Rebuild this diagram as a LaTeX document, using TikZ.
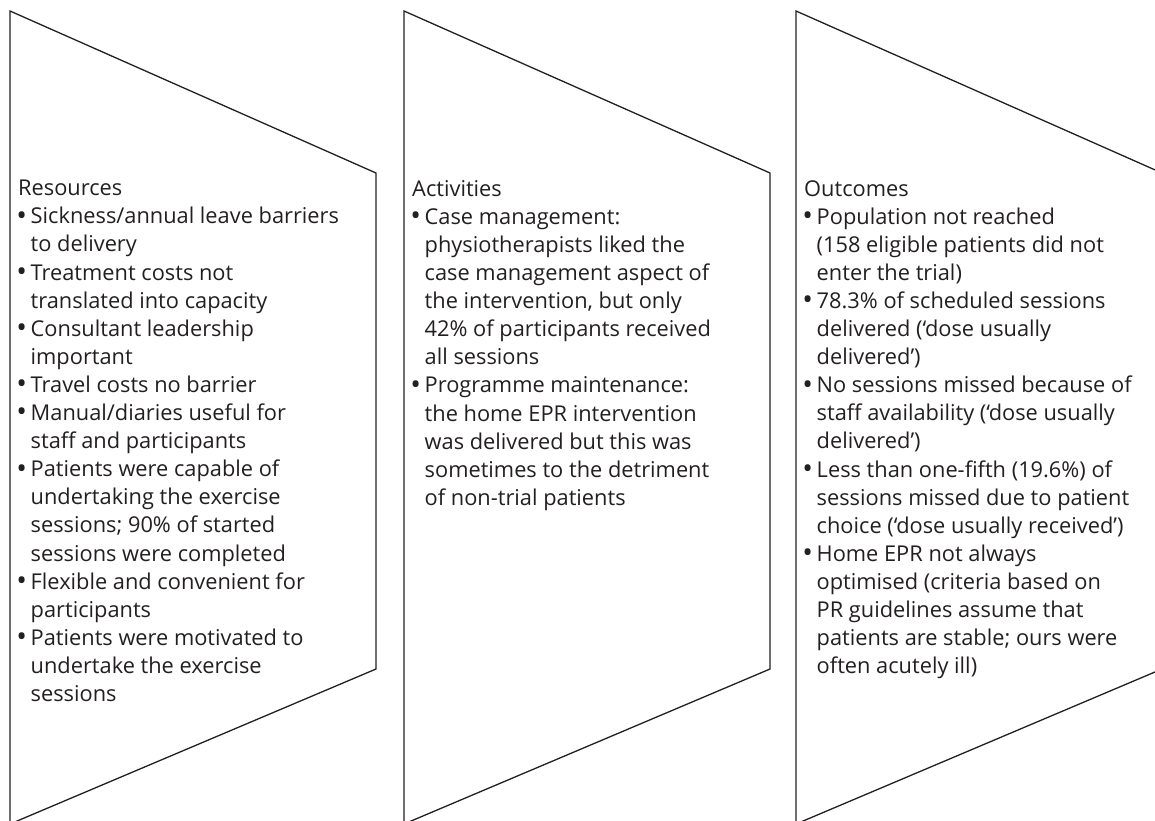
\documentclass[tikz,border=0pt]{standalone}
\usepackage{fontspec}
\setmainfont{Open Sans}
\definecolor{ink}{HTML}{231F20}
\newcommand{\bul}{\makebox[12.5pt][l]{\hspace*{-1.8pt}\raisebox{-0.12ex}{\scalebox{1.3}{\textbullet}}}}
\newcommand{\ind}{\hspace*{12.5pt}}
\tikzset{
  panel/.style={draw=ink, line width=1.3pt, line join=miter},
  coltext/.style={anchor=north west, inner sep=0pt, align=left, text=ink,
    font=\fontsize{21.8}{28.1}\selectfont}
}
\begin{document}
\begin{tikzpicture}[x=1pt,y=-1pt]
\useasboundingbox (0,0) rectangle (1155,820);
\clip (0,0) rectangle (1155,820);
\draw[panel] (10,11) -- (376,173) -- (376,669) -- (10,824) -- cycle;
\draw[panel] (404,11) -- (770,173) -- (770,669) -- (404,824) -- cycle;
\draw[panel] (796,11) -- (1162,173) -- (1162,669) -- (796,824) -- cycle;
\node[coltext] (res) at (18,180) {Resources\\
\bul Sickness/annual leave barriers\\
\ind to delivery\\
\bul Treatment costs not\\
\ind translated into capacity\\
\bul Consultant leadership\\
\ind important\\
\bul Travel costs no barrier\\
\bul Manual/diaries useful for\\
\ind staff and participants\\
\bul Patients were capable of\\
\ind undertaking the exercise\\
\ind sessions; 90\% of started\\
\ind sessions were completed\\
\bul Flexible and convenient for\\
\ind participants\\
\bul Patients were motivated to\\
\ind undertake the exercise\\
\ind sessions};
\node[coltext] (act) at (412,180) {Activities\\
\bul Case management:\\
\ind physiotherapists liked the\\
\ind case management aspect of\\
\ind the intervention, but only\\
\ind 42\% of participants received\\
\ind all sessions\\
\bul Programme maintenance:\\
\ind the home EPR intervention\\
\ind was delivered but this was\\
\ind sometimes to the detriment\\
\ind of non-trial patients};
\node[coltext] (out) at (804,180) {Outcomes\\
\bul Population not reached\\
\ind (158 eligible patients did not\\
\ind enter the trial)\\
\bul 78.3\% of scheduled sessions\\
\ind delivered (‘dose usually\\
\ind delivered’)\\
\bul No sessions missed because of\\
\ind staff availability (‘dose usually\\
\ind delivered’)\\
\bul Less than one-fifth (19.6\%) of\\
\ind sessions missed due to patient\\
\ind choice (‘dose usually received’)\\
\bul Home EPR not always\\
\ind optimised (criteria based on\\
\ind PR guidelines assume that\\
\ind patients are stable; ours were\\
\ind often acutely ill)};
\end{tikzpicture}
\end{document}
